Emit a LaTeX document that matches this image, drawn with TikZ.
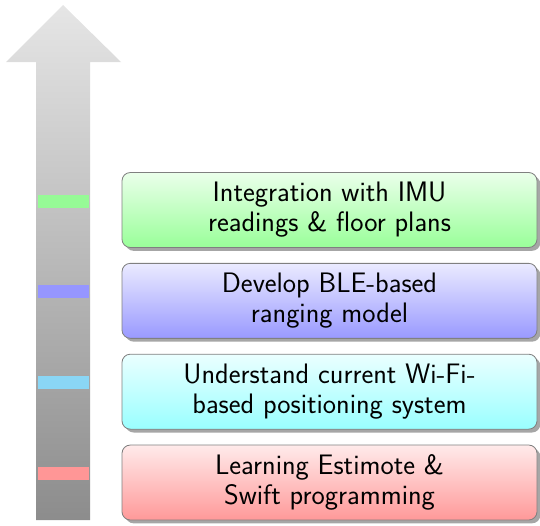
\documentclass[tikz,border=0pt]{standalone}
\usepackage{tikz}
\usetikzlibrary{positioning,shadows}
\definecolor{greenmark}{HTML}{96FA96}
\definecolor{bluemark}{HTML}{9696FF}
\definecolor{cyanmark}{HTML}{8AD6F5}
\definecolor{redmark}{HTML}{FF9696}
\tikzset{
  stepbox/.style={
    draw=black!50,
    rounded corners=5pt,
    line width=0.5pt,
    minimum width=249pt,
    minimum height=45pt,
    align=center,
    font=\sffamily\fontsize{16.9}{18}\selectfont,
    drop shadow={shadow xshift=2pt, shadow yshift=-2pt, fill=black!35, opacity=1}
  },
  greenstep/.style={stepbox, top color=green!8, bottom color=green!40},
  bluestep/.style={stepbox, top color=blue!8, bottom color=blue!40},
  cyanstep/.style={stepbox, top color=cyan!8, bottom color=cyan!40},
  redstep/.style={stepbox, top color=red!8, bottom color=red!40},
  levelmark/.style={minimum width=30.6pt, minimum height=7.8pt, inner sep=0pt, yshift=5.4pt}
}

\begin{document}
\begin{tikzpicture}[x=0.6pt, y=0.6pt, node distance=9pt]
  \useasboundingbox (0,0) rectangle (540,525);

  % progress arrow
  \shade[top color=gray!20, bottom color=gray!90]
    (36,5) -- (90,5) -- (90,463) -- (121,463) -- (63,520) -- (6,463) -- (36,463) -- cycle;
  \coordinate (shaft) at (63,0);

  % steps, bottom to top
  \node[redstep] (learn) at (329.5,42.5) {Learning Estimote \&\\Swift programming};
  \node[cyanstep, above=of learn] (wifi) {Understand current Wi-Fi-\\based positioning system};
  \node[bluestep, above=of wifi] (ble) {Develop BLE-based\\ranging model};
  \node[greenstep, above=of ble] (imu) {Integration with IMU\\readings \& floor plans};

  % marks on the arrow
  \node[levelmark, fill=redmark] (learnmark) at (shaft |- learn) {};
  \node[levelmark, fill=cyanmark] (wifimark) at (shaft |- wifi) {};
  \node[levelmark, fill=bluemark] (blemark) at (shaft |- ble) {};
  \node[levelmark, fill=greenmark] (imumark) at (shaft |- imu) {};
\end{tikzpicture}
\end{document}
